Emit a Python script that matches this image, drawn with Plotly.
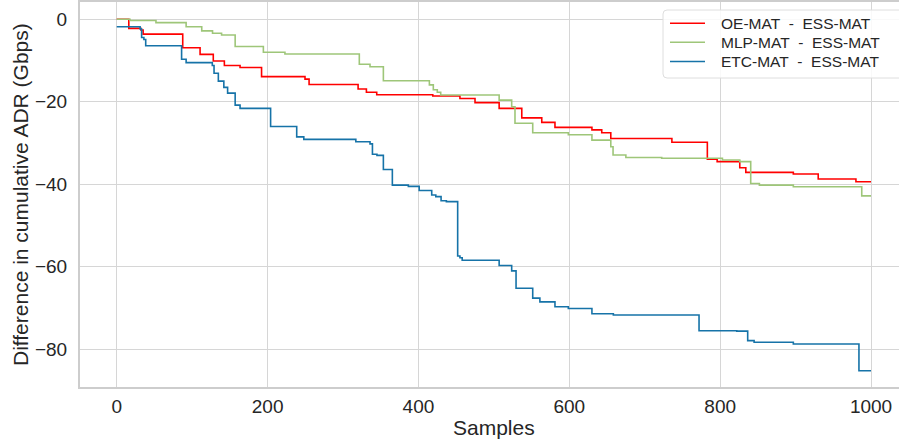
import plotly.graph_objects as go

# ---------------- data ----------------
samples_oe = [0, 16, 32, 35, 87.5, 110.5, 128, 142.7, 163.5, 192, 249.6, 255, 320, 331, 344.7,
              419, 455, 475, 507, 537, 563.5, 581, 630, 643, 655, 736, 783, 796, 826, 834,
              897, 930, 980, 1000]
diff_oe = [0, -2.2, -2.6, -3.6, -6.9, -8.5, -10.1, -11.2, -11.7, -13.9, -14.5, -15.8, -16.9, -17.7, -18.3,
           -18.6, -19.2, -20.2, -21.6, -23.9, -25.0, -26.2, -26.8, -27.5, -28.9, -29.8, -33.9, -34.5, -36.0, -37.1,
           -37.5, -38.7, -39.4, -39.4]

samples_mlp = [0, 17.6, 52, 92, 112.7, 127, 139, 157, 194.4, 223, 321.6, 335.8, 353.5, 414.5, 419.7,
               425, 429.5, 507, 523.6, 528, 551.5, 598.7, 630, 655, 658, 675, 722.5, 803, 826, 840.5,
               852, 897, 987.7, 1000]
diff_mlp = [0, -0.3, -0.8, -1.8, -2.8, -3.4, -3.8, -6.6, -8.0, -8.4, -10.9, -11.5, -14.9, -15.9, -17.1,
            -17.7, -18.35, -19.6, -21.2, -25.2, -27.5, -28.0, -29.3, -30.9, -32.9, -33.5, -33.7, -34.1, -34.5, -39.8,
            -40.2, -40.6, -42.8, -42.8]

samples_etc = [0, 31, 33, 36, 38.4, 86, 92, 126.7, 129, 134.7, 142, 147, 157, 163.5, 204,
               238.6, 248, 317, 335.8, 339, 345, 353.5, 365.4, 386.6, 401, 417.6, 423, 430, 437, 452,
               455, 458, 507, 523.6, 529.4, 551.5, 561, 581, 598.7, 630, 658.4, 772, 822, 836.5, 845,
               897, 984, 1000]
diff_etc = [-1.8, -2.35, -4.4, -4.9, -6.4, -9.7, -10.5, -11.2, -13.1, -15.0, -16.5, -17.9, -20.8, -21.6, -26.0,
            -28.5, -29.1, -29.7, -30.2, -32.7, -33.0, -36.4, -40.2, -40.5, -41.5, -42.6, -43.0, -44.0, -44.2, -57.4,
            -57.8, -58.4, -59.7, -61.0, -65.2, -67.6, -68.5, -69.7, -70.1, -71.4, -71.7, -75.5, -75.6, -77.9, -78.3,
            -78.7, -85.2, -85.2]

series_names = ["OE-MAT\u00a0 - \u00a0ESS-MAT", "MLP-MAT\u00a0 - \u00a0ESS-MAT", "ETC-MAT\u00a0 - \u00a0ESS-MAT"]
series_colors = ["#ff0000", "#9ec679", "#1673a8"]
x_ticks = [0, 200, 400, 600, 800, 1000]
y_ticks = [0, -20, -40, -60, -80]

# ---------------- layout geometry ----------------
W, H = 899, 444
L, R, T, B = 80, 0, 2, 57
PW = W - L - R
PH = H - T - B
FONT = "Liberation Sans, Arial, sans-serif"


def px(xp):
    return (xp - L) / PW


def py(yp):
    return (H - B - yp) / PH


fig = go.Figure()
for xs, ys, name, col in zip([samples_oe, samples_mlp, samples_etc],
                             [diff_oe, diff_mlp, diff_etc], series_names, series_colors):
    fig.add_trace(go.Scatter(x=xs, y=ys, mode="lines", name=name, showlegend=False,
                             line=dict(color=col, width=1.6, shape="hv")))

fig.update_layout(
    width=W, height=H,
    margin=dict(l=L, r=R, t=T, b=B, pad=0),
    paper_bgcolor="white", plot_bgcolor="white",
    font=dict(family=FONT, color="#262626"),
    xaxis=dict(range=[-48.7, 1037.1], tickvals=x_ticks, showgrid=True, gridcolor="#d6d6d6", gridwidth=1,
               zeroline=False, showline=True, linecolor="#cdcdcd", linewidth=2, mirror=True,
               ticks="", tickfont=dict(size=19, family=FONT, color="#262626"), ticklabelstandoff=1),
    yaxis=dict(range=[-89.14, 4.19], tickvals=y_ticks, showgrid=True, gridcolor="#d6d6d6", gridwidth=1,
               zeroline=False, showline=True, linecolor="#cdcdcd", linewidth=2,
               ticks="", tickfont=dict(size=19, family=FONT, color="#262626"), ticklabelstandoff=7),
)

annotations = [
    dict(text="Samples", x=px(494), y=py(428), xref="paper", yref="paper", showarrow=False,
         xanchor="center", yanchor="middle", font=dict(size=21, family=FONT, color="#262626")),
    dict(text="Difference in cumulative ADR (Gbps)", x=px(20.5), y=py(194.5), xref="paper", yref="paper",
         showarrow=False, textangle=-90, xanchor="center", yanchor="middle",
         font=dict(size=21, family=FONT, color="#262626")),
]

# custom legend (box, line samples, labels)
bx0, by0, bx1, by1, rr = 663, 10, 910, 78, 4
path = (f"M {px(bx0 + rr)},{py(by0)} L {px(bx1)},{py(by0)} L {px(bx1)},{py(by1)} "
        f"L {px(bx0 + rr)},{py(by1)} Q {px(bx0)},{py(by1)} {px(bx0)},{py(by1 - rr)} "
        f"L {px(bx0)},{py(by0 + rr)} Q {px(bx0)},{py(by0)} {px(bx0 + rr)},{py(by0)} Z")
shapes = [dict(type="path", xref="paper", yref="paper", path=path,
               fillcolor="rgba(255,255,255,0.85)", line=dict(color="#dedede", width=1))]
row_y = [23.3, 42.3, 61.5]
for name, col, yy in zip(series_names, series_colors, row_y):
    shapes.append(dict(type="line", xref="paper", yref="paper", x0=px(670), x1=px(705), y0=py(yy), y1=py(yy),
                       line=dict(color=col, width=1.6)))
    annotations.append(dict(text=name, x=px(719), y=py(yy), xref="paper", yref="paper", showarrow=False,
                            xanchor="left", yanchor="middle",
                            font=dict(size=15.5, family=FONT, color="#262626")))

fig.update_layout(shapes=shapes, annotations=annotations)
fig.write_html("out.html")
